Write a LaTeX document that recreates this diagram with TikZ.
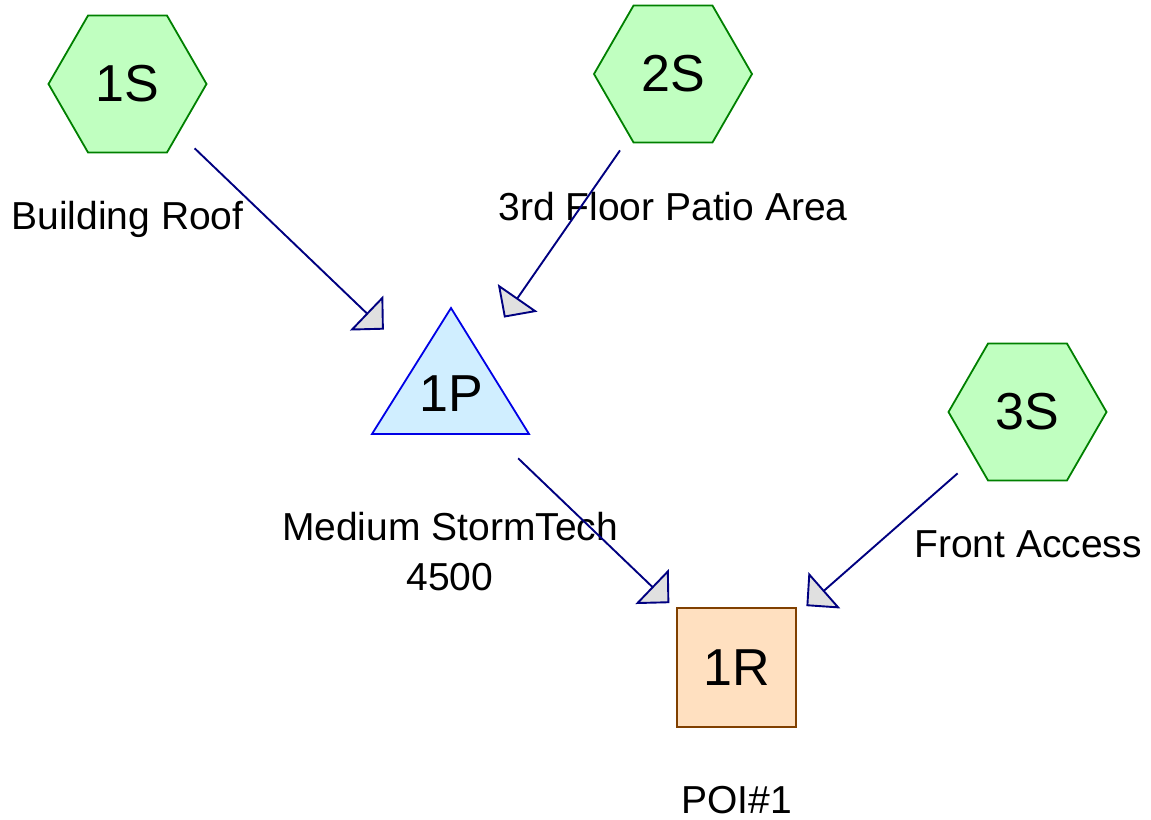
\documentclass[tikz,border=0pt]{standalone}
\usepackage{fontspec}
\setmainfont{Liberation Sans}
\usetikzlibrary{shapes.geometric,arrows.meta}
\definecolor{hexfill}{RGB}{192,255,192}
\definecolor{hexdraw}{RGB}{0,128,0}
\definecolor{trifill}{RGB}{208,238,255}
\definecolor{tridraw}{RGB}{0,0,230}
\definecolor{boxfill}{RGB}{255,224,192}
\definecolor{boxdraw}{RGB}{128,64,0}
\definecolor{linkcol}{RGB}{0,0,128}
\definecolor{tipfill}{RGB}{224,224,224}
\tikzset{
  hexnode/.style={regular polygon, regular polygon sides=6, minimum size=158bp,
    inner sep=0pt, outer sep=0pt, draw=hexdraw, fill=hexfill, line width=1.8bp,
    font=\fontsize{52bp}{62bp}\selectfont},
  tripath/.style={draw=tridraw, fill=trifill, line width=1.8bp, line join=miter},
  txtnode/.style={inner sep=0pt, outer sep=0pt, font=\fontsize{52bp}{62bp}\selectfont},
  boxnode/.style={rectangle, minimum size=119bp, inner sep=0pt, outer sep=0pt,
    draw=boxdraw, fill=boxfill, line width=1.8bp, font=\fontsize{52bp}{62bp}\selectfont},
  lbl/.style={inner sep=0pt, outer sep=0pt, anchor=base, align=center,
    font=\fontsize{39bp}{50bp}\selectfont},
  link/.style={draw=linkcol, line width=1.9bp, shorten <=93bp, shorten >=93bp,
    -{Triangle[length=24bp, width=48bp, fill=tipfill, line join=miter]}},
}
\begin{document}
\begin{tikzpicture}[x=1bp, y=-1bp]
\useasboundingbox (0,0) rectangle (1151,820);
% shapes
\node[hexnode] (1S) at (127.5,84) {1S};
\node[hexnode] (2S) at (673,74) {2S};
\node[hexnode] (3S) at (1027.5,412) {3S};
\draw[tripath] (451,308) -- (372,434) -- (529,434) -- cycle;
\node[txtnode] (1P) at (451,394) {1P};
\node[boxnode] (1R) at (736.5,667.5) {1R};
% labels
\node[lbl] (l1S) at (127.5,229) {Building Roof};
\node[lbl] (l2S) at (673,220) {3rd Floor Patio Area};
\node[lbl] (l1P) at (450,590) {Medium StormTech\\4500};
\node[lbl] (l3S) at (1028,557) {Front Access};
\node[lbl] (l1R) at (736.5,813) {POI\#1};
% connectors
\draw[link] (1S.center) -- (1P.center);
\draw[link] (2S.center) -- (1P.center);
\draw[link] (1P.center) -- (1R.center);
\draw[link] (3S.center) -- (1R.center);
\end{tikzpicture}
\end{document}
